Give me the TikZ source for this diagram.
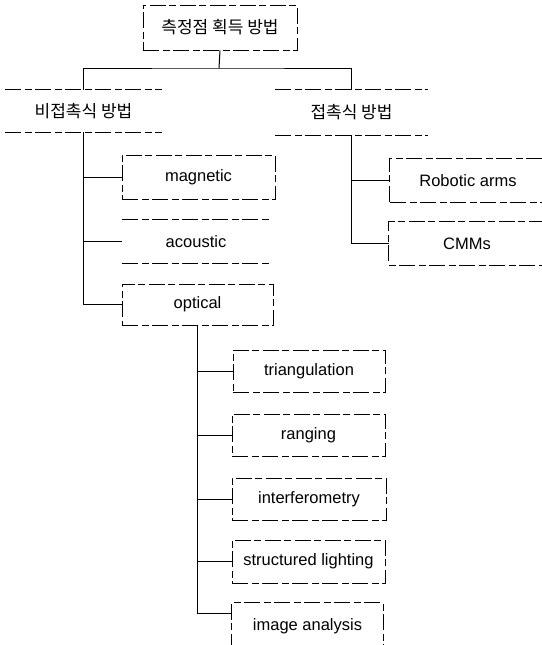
\documentclass[tikz,border=0pt]{standalone}
\usepackage{fontspec}
\setmainfont{Liberation Sans}
\newfontfamily\kr{Noto Sans CJK KR}
\begin{document}
\begin{tikzpicture}[x=1pt,y=-1pt,
  box/.style={rectangle,inner sep=0pt,font=\fontsize{16.5}{19}\selectfont},
  dbox/.style={box,draw,line width=0.7pt,dash pattern=on 16pt off 4pt on 7pt off 3pt},
  krbox/.style={box,font=\kr\fontsize{17}{20}\selectfont},
  dline/.style={line width=0.7pt,dash pattern=on 16pt off 4pt on 7pt off 3pt},
  conn/.style={line width=1pt}]
\useasboundingbox[fill=white] (0,0) rectangle (541,645);
% top level
\node[krbox,draw,line width=0.7pt,dash pattern=on 16pt off 4pt on 7pt off 3pt,minimum width=154pt,minimum height=45pt] (root) at (220,27.5) {측정점 획득 방법};
\node[krbox,minimum width=157pt,minimum height=42pt] (nonc) at (83.5,111) {비접촉식 방법};
\node[krbox,minimum width=153pt,minimum height=45pt] (cont) at (351.5,112.5) {접촉식 방법};
% non-contact children
\node[dbox,minimum width=153pt,minimum height=44pt] (mag) at (198.5,177) {magnetic};
\node[box,minimum width=148pt,minimum height=43pt] (aco) at (196,241.5) {acoustic};
\node[dbox,minimum width=151pt,minimum height=41pt] (opt) at (197.5,304.5) {optical};
% contact children
\node[box,minimum width=156pt,minimum height=43pt] (rob) at (468,180.5) {Robotic arms};
\node[box,minimum width=156pt,minimum height=43pt] (cms) at (467,243.5) {CMMs};
% optical children
\node[dbox,minimum width=152pt,minimum height=42pt] (tri) at (309,371) {triangulation};
\node[dbox,minimum width=153pt,minimum height=42pt] (rng) at (308.5,435) {ranging};
\node[dbox,minimum width=154pt,minimum height=42pt] (itf) at (309,499) {interferometry};
\node[dbox,minimum width=153pt,minimum height=43pt] (str) at (308.5,561.5) {structured lighting};
\node[box,minimum width=151pt,minimum height=47pt] (img) at (307.5,626.5) {image analysis};
% partial box outlines
\draw[dline] (nonc.north west) -- (nonc.north east);
\draw[dline] (nonc.south west) -- (nonc.south east);
\draw[dline] (cont.north west) -- (cont.north east);
\draw[dline] (cont.south west) -- (cont.south east);
\draw[dline] (aco.north west) -- (aco.north east);
\draw[dline] (aco.south west) -- (aco.south east);
\draw[dline] (rob.south west) -- (rob.north west) -- (rob.north east);
\draw[dline] (rob.south west) -- (rob.south east);
\draw[dline] (cms.north east) -- (cms.north west) -- (cms.south west) -- (cms.south east);
\draw[dline] (img.south west) -- (img.north west) -- (img.north east) -- (img.south east);
% connectors
\coordinate (j0) at (219,68);
\draw[conn] (root.south) -- (j0);
\draw[conn] (nonc.north) |- (j0) -| (cont.north);
\draw[conn] (nonc.south) |- (opt.west);
\draw[conn] (nonc.south |- mag.west) -- (mag.west);
\draw[conn] (nonc.south |- aco.west) -- (aco.west);
\draw[conn] (cont.south) |- (cms.west);
\draw[conn] (cont.south |- rob.west) -- (rob.west);
\coordinate (imgin) at ([yshift=13.5pt]img.west);
\draw[conn] (opt.south) |- (imgin);
\draw[conn] (opt.south |- tri.west) -- (tri.west);
\draw[conn] (opt.south |- rng.west) -- (rng.west);
\draw[conn] (opt.south |- itf.west) -- (itf.west);
\draw[conn] (opt.south |- str.west) -- (str.west);
\end{tikzpicture}
\end{document}
